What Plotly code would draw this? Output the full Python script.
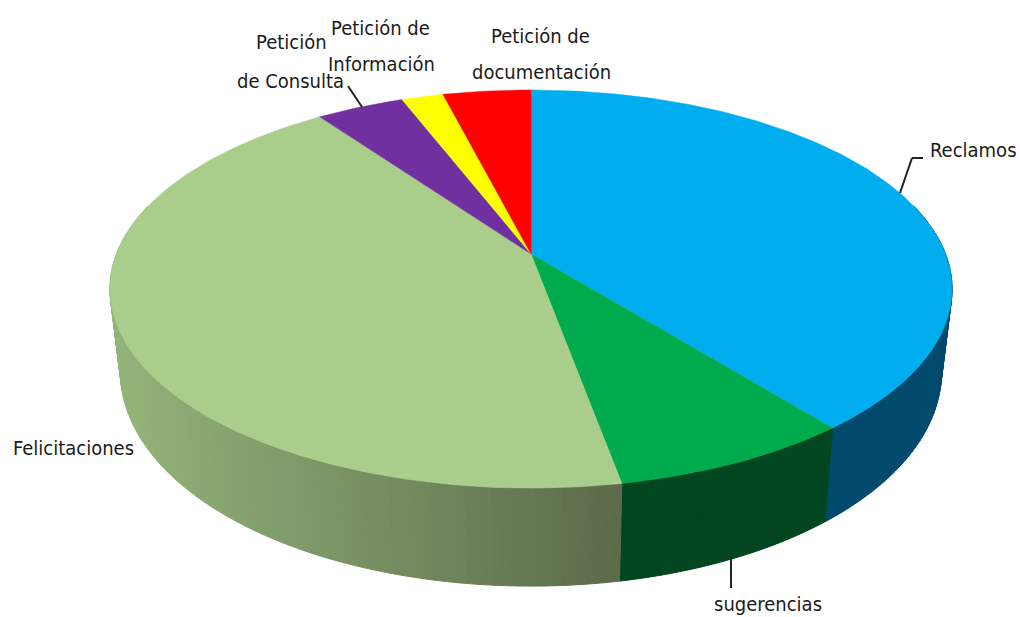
import numpy as np
import plotly.graph_objects as go

categories = ["Reclamos", "sugerencias", "Felicitaciones", "Petición de Consulta",
              "Petición de Información", "Petición de documentación"]
values = [39.2, 7.9, 43.0, 4.0, 1.9, 4.0]
top_colors = ["#00AEEF", "#00AB4E", "#A9CE8C", "#7030A0", "#FFFF00", "#FF0000"]
side_left = ["#024A6D", "#01461F", "#8FAF76", "#3A1A55", "#808000", "#800000"]
side_right = ["#024A6D", "#01461F", "#5C6A4A", "#3A1A55", "#808000", "#800000"]

# Projection of the pie disc on the page
CX, CY, A, B, K = 531.0, 254.0, 414.5, 192.9, 0.176
SHRINK, D0, D1 = 0.975, 79.0, 19.0


def top_xy(theta):
    u, v = np.sin(theta), -np.cos(theta)
    w = 1 - K * v
    return CX + A * u / w, CY + B * v / w


def low_xy(theta):
    x, y = top_xy(theta)
    v = -np.cos(theta)
    return CX + SHRINK * (x - CX), y + D0 + D1 * v


def hexmix(a, b, t):
    ca = np.array([int(a[i:i + 2], 16) for i in (1, 3, 5)], float)
    cb = np.array([int(b[i:i + 2], 16) for i in (1, 3, 5)], float)
    c = ca + (cb - ca) * t
    return "#%02X%02X%02X" % tuple(int(round(z)) for z in c)


fig = go.Figure()
total = sum(values)
edges = np.cumsum([0] + values) / total * 2 * np.pi

# Side wall
for i in range(len(values)):
    a0 = max(edges[i], np.radians(75))
    a1 = min(edges[i + 1], np.radians(285))
    if a1 <= a0:
        continue
    n = max(2, int((a1 - a0) / np.radians(1.0)))
    th = np.linspace(a0, a1, n + 1)
    x0 = top_xy(a0)[0]
    x1 = top_xy(a1)[0]
    for j in range(n):
        s = np.linspace(th[j], th[j + 1], 3)
        xt, yt = top_xy(s)
        xl, yl = low_xy(s)
        xs = list(xt) + list(xl[::-1]) + [xt[0]]
        ys = list(yt) + list(yl[::-1]) + [yt[0]]
        mid = top_xy((th[j] + th[j + 1]) / 2)[0]
        col = hexmix(side_left[i], side_right[i], (mid - x1) / (x0 - x1))
        fig.add_trace(go.Scatter(x=xs, y=ys, mode="lines", fill="toself", fillcolor=col,
                                 line=dict(color=col, width=1), hoverinfo="skip", showlegend=False))

# Top face
for i, name in enumerate(categories):
    th = np.linspace(edges[i], edges[i + 1], max(3, int(values[i] * 6)))
    xs, ys = top_xy(th)
    fig.add_trace(go.Scatter(x=[CX] + list(xs) + [CX], y=[CY] + list(ys) + [CY], mode="lines",
                             fill="toself", fillcolor=top_colors[i],
                             line=dict(color=top_colors[i], width=0.5),
                             name=name, hoverinfo="name", showlegend=False))

labels = [
    ("Reclamos", 973, 150),
    ("sugerencias", 768, 604),
    ("Felicitaciones", 73, 448),
    ("Petición", 291, 42),
    ("de Consulta", 290, 81),
    ("Petición de", 380, 28),
    ("Información", 381, 64),
    ("Petición de", 540, 36),
    ("documentación", 541, 72),
]
anns = [dict(x=x, y=y, text=t, showarrow=False, xref="x", yref="y",
             font=dict(family="DejaVu Sans Condensed", size=20, color="#1a1a1a"))
        for t, x, y in labels]

leaders = [
    [(900, 193), (912, 158), (923, 158)],
    [(731, 557), (731, 588)],
    [(348, 86), (362, 107)],
]
shapes = []
for pts in leaders:
    for (x0, y0), (x1, y1) in zip(pts[:-1], pts[1:]):
        shapes.append(dict(type="line", x0=x0, y0=y0, x1=x1, y1=y1, xref="x", yref="y",
                           line=dict(color="#222222", width=2)))

fig.update_layout(
    width=1020, height=617, margin=dict(l=0, r=0, t=0, b=0),
    paper_bgcolor="white", plot_bgcolor="white",
    xaxis=dict(range=[0, 1020], visible=False, fixedrange=True),
    yaxis=dict(range=[617, 0], visible=False, fixedrange=True),
    annotations=anns, shapes=shapes, showlegend=False,
)
fig.write_html("out.html", config=dict(displayModeBar=False),
               post_script="document.body.style.margin='0';document.documentElement.style.overflow='hidden';")
